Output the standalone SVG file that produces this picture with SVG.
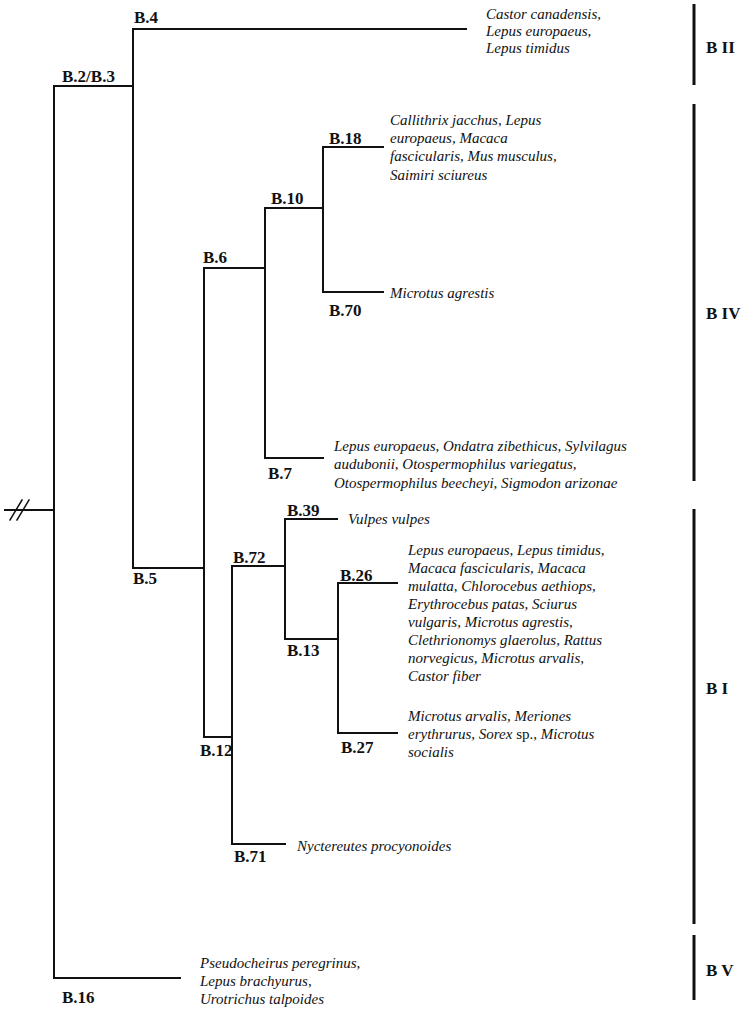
<svg xmlns="http://www.w3.org/2000/svg" width="743" height="1012" viewBox="0 0 743 1012">
<style>
.ln{stroke:#111;stroke-width:2;fill:none;stroke-linecap:square}
.br{stroke:#111;stroke-width:3;fill:none}
.lb{font-family:"Liberation Serif","Times New Roman",serif;font-weight:bold;font-size:17px;fill:#111}
.sp{font-family:"Liberation Serif","Times New Roman",serif;font-style:italic;font-size:15px;fill:#111}
.up{font-style:normal}
</style>
<rect width="743" height="1012" fill="#fff"/>
<g id="connectors">
<path class="ln" d="M5,510 H54 M54,86 V978 M54,86 H133 M54,978 H180"/>
<path class="ln" d="M10,520 L22,500 M17,520 L29,500" stroke-linecap="butt" style="stroke-width:1.5"/>
<path class="ln" d="M133,29 V568 M133,29 H466 M133,568 H204"/>
<path class="ln" d="M204,268 V737 M204,268 H265 M204,737 H232"/>
<path class="ln" d="M265,208 V458 M265,208 H323 M265,458 H323"/>
<path class="ln" d="M323,147 V292 M323,147 H383 M323,292 H383"/>
<path class="ln" d="M232,566 V844 M232,566 H285 M232,844 H285"/>
<path class="ln" d="M285,519 V639 M285,519 H337 M285,639 H338"/>
<path class="ln" d="M338,583 V733 M338,583 H397 M338,733 H397"/>
</g>
<g id="n-B2B3"><text class="lb" x="62" y="82">B.2/B.3</text></g>
<g id="n-B4"><text class="lb" x="134" y="23">B.4</text>
<text class="sp" x="486"><tspan x="486" y="19">Castor canadensis,</tspan><tspan x="486" y="36">Lepus europaeus,</tspan><tspan x="486" y="53">Lepus timidus</tspan></text></g>
<g id="n-B5"><text class="lb" x="133" y="584">B.5</text></g>
<g id="n-B6"><text class="lb" x="203" y="263">B.6</text></g>
<g id="n-B10"><text class="lb" x="271" y="204">B.10</text></g>
<g id="n-B18"><text class="lb" x="329" y="144">B.18</text>
<text class="sp"><tspan x="390" y="125">Callithrix jacchus, Lepus</tspan><tspan x="390" y="143">europaeus, Macaca</tspan><tspan x="390" y="161">fascicularis, Mus musculus,</tspan><tspan x="390" y="180">Saimiri sciureus</tspan></text></g>
<g id="n-B70"><text class="lb" x="329" y="316">B.70</text>
<text class="sp" x="390" y="298">Microtus agrestis</text></g>
<g id="n-B7"><text class="lb" x="268" y="479">B.7</text>
<text class="sp"><tspan x="334" y="451">Lepus europaeus, Ondatra zibethicus, Sylvilagus</tspan><tspan x="334" y="469">audubonii, Otospermophilus variegatus,</tspan><tspan x="334" y="488">Otospermophilus beecheyi, Sigmodon arizonae</tspan></text></g>
<g id="n-B12"><text class="lb" x="200" y="756">B.12</text></g>
<g id="n-B72"><text class="lb" x="233" y="563">B.72</text></g>
<g id="n-B39"><text class="lb" x="287" y="516">B.39</text>
<text class="sp" x="348" y="524">Vulpes vulpes</text></g>
<g id="n-B13"><text class="lb" x="287" y="656">B.13</text></g>
<g id="n-B26"><text class="lb" x="340" y="581">B.26</text>
<text class="sp"><tspan x="408" y="555">Lepus europaeus, Lepus timidus,</tspan><tspan x="408" y="573">Macaca fascicularis, Macaca</tspan><tspan x="408" y="591">mulatta, Chlorocebus aethiops,</tspan><tspan x="408" y="609">Erythrocebus patas, Sciurus</tspan><tspan x="408" y="627">vulgaris, Microtus agrestis,</tspan><tspan x="408" y="645">Clethrionomys glaerolus, Rattus</tspan><tspan x="408" y="663">norvegicus, Microtus arvalis,</tspan><tspan x="408" y="681">Castor fiber</tspan></text></g>
<g id="n-B27"><text class="lb" x="341" y="753">B.27</text>
<text class="sp"><tspan x="408" y="721">Microtus arvalis, Meriones</tspan><tspan x="408" y="739">erythrurus, Sorex <tspan class="up">sp.</tspan>, Microtus</tspan><tspan x="408" y="757">socialis</tspan></text></g>
<g id="n-B71"><text class="lb" x="234" y="862">B.71</text>
<text class="sp" x="297" y="851">Nyctereutes procyonoides</text></g>
<g id="n-B16"><text class="lb" x="62" y="1003">B.16</text>
<text class="sp"><tspan x="200" y="968">Pseudocheirus peregrinus,</tspan><tspan x="200" y="986">Lepus brachyurus,</tspan><tspan x="200" y="1004">Urotrichus talpoides</tspan></text></g>
<g id="clades">
<line class="br" x1="694" y1="4" x2="694" y2="85"/>
<text class="lb" x="706" y="53">B II</text>
<line class="br" x1="694" y1="104" x2="694" y2="481"/>
<text class="lb" x="706" y="319">B IV</text>
<line class="br" x1="694" y1="509" x2="694" y2="924"/>
<text class="lb" x="706" y="694">B I</text>
<line class="br" x1="694" y1="935" x2="694" y2="1000"/>
<text class="lb" x="706" y="976">B V</text>
</g>
</svg>
